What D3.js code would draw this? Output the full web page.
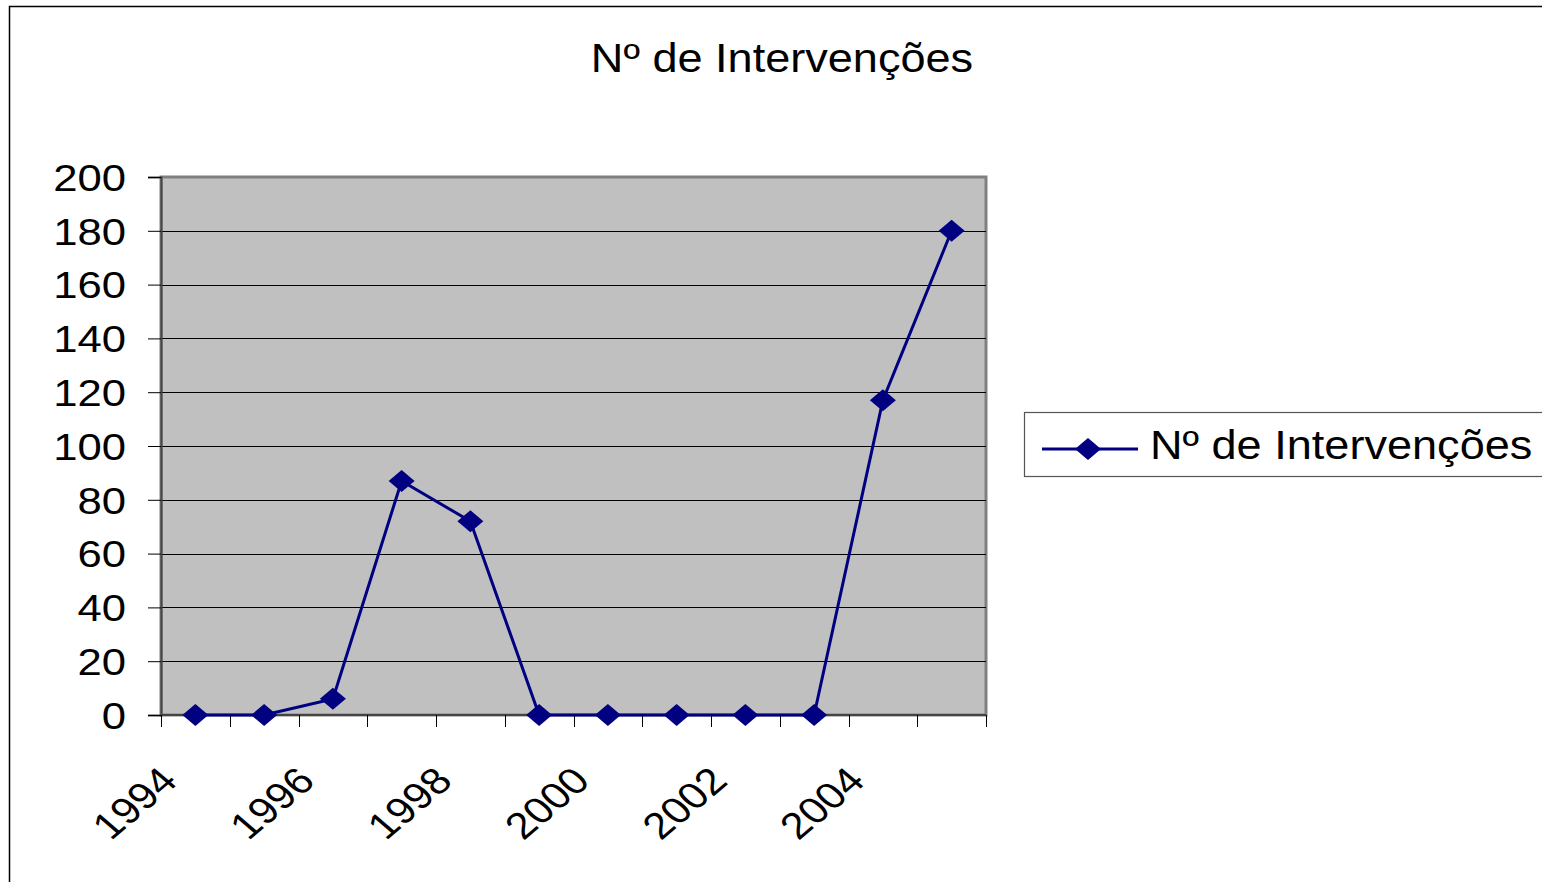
<!DOCTYPE html>
<html>
<head>
<meta charset="utf-8">
<script src="https://cdn.jsdelivr.net/npm/d3@7"></script>
<style>
  body { margin: 0; background: #fff; }
  text { font-family: "Liberation Sans", Arial, sans-serif; fill: #000; }
</style>
</head>
<body>
<script>
// chart data
const years = ['1994','1995','1996','1997','1998','1999','2000','2001','2002','2003','2004','2005'];
const interventions = [0, 0, 6, 87, 72, 0, 0, 0, 0, 0, 117, 180];
const yTicks = [0, 20, 40, 60, 80, 100, 120, 140, 160, 180, 200];
const shownYears = ['1994','1996','1998','2000','2002','2004'];
const seriesName = 'Nº de Intervenções';

const W = 1542, H = 882;
const plot = {left: 161, top: 177, right: 986, bottom: 715};
const stretch = 1.18; // the original text is drawn a bit wide

const svg = d3.select('body').append('svg')
  .attr('width', W)
  .attr('height', H);

// outer chart frame (runs off the right/bottom of the picture)
svg.append('rect')
  .attr('x', 9.5).attr('y', 6.5)
  .attr('width', W + 20).attr('height', H + 20)
  .attr('fill', 'none')
  .attr('stroke', '#000')
  .attr('stroke-width', 1.5);

// title
svg.append('text')
  .attr('text-anchor', 'middle')
  .attr('font-size', 41)
  .attr('transform', 'translate(782, 72) scale(1.1, 1)')
  .text(seriesName);

const xScale = d3.scaleBand()
  .domain(years)
  .range([plot.left, plot.right])
  .padding(0);

const yScale = d3.scaleLinear()
  .domain([0, 200])
  .range([plot.bottom, plot.top]);

// plot area
svg.append('rect')
  .attr('x', plot.left).attr('y', plot.top)
  .attr('width', plot.right - plot.left)
  .attr('height', plot.bottom - plot.top)
  .attr('fill', '#c0c0c0')
  .attr('stroke', '#808080')
  .attr('stroke-width', 3);

// gridlines
svg.selectAll('.grid')
  .data(yTicks.filter(d => d > 0 && d < 200))
  .enter()
  .append('line')
  .attr('x1', plot.left).attr('x2', plot.right)
  .attr('y1', d => Math.round(yScale(d)) + 0.5)
  .attr('y2', d => Math.round(yScale(d)) + 0.5)
  .attr('stroke', '#000')
  .attr('stroke-width', 1);

// y axis
const yAxis = d3.axisLeft(yScale)
  .tickValues(yTicks)
  .tickSize(13);

const yAxisGroup = svg.append('g')
  .attr('transform', `translate(${plot.left}, 0)`)
  .call(yAxis);
yAxisGroup.select('.domain').attr('stroke', '#444').attr('stroke-width', 2);
yAxisGroup.selectAll('.tick line').attr('stroke', '#000');
yAxisGroup.selectAll('.tick text')
  .attr('x', 0)
  .attr('transform', `translate(-35, 0) scale(${stretch}, 1)`)
  .attr('font-size', 37)
  .attr('font-family', '"Liberation Sans", Arial, sans-serif')
  .attr('fill', '#000')
  .attr('dy', '0.36em');

// x axis line and category ticks
svg.append('line')
  .attr('x1', plot.left).attr('x2', plot.right)
  .attr('y1', plot.bottom).attr('y2', plot.bottom)
  .attr('stroke', '#444').attr('stroke-width', 2);

const boundaries = years.map(y => xScale(y)).concat([xScale.range()[1]]);
svg.selectAll('.xtick')
  .data(boundaries)
  .enter()
  .append('line')
  .attr('x1', d => Math.round(d) + 0.5).attr('x2', d => Math.round(d) + 0.5)
  .attr('y1', plot.bottom).attr('y2', plot.bottom + 12)
  .attr('stroke', '#000');

const cx = d => xScale(d) + xScale.bandwidth() / 2;

svg.selectAll('.xlabel')
  .data(shownYears)
  .enter()
  .append('text')
  .attr('text-anchor', 'end')
  .attr('font-size', 37)
  .attr('transform', d => `translate(${cx(d) - 16}, 783) scale(${stretch}, 1) rotate(-45)`)
  .text(d => d);

// series line
const line = d3.line()
  .x((d, i) => cx(years[i]))
  .y(d => yScale(d));

svg.append('path')
  .datum(interventions)
  .attr('d', line)
  .attr('fill', 'none')
  .attr('stroke', '#000080')
  .attr('stroke-width', 3);

const diamond = 'M0,-11 L13,0 L0,11 L-13,0 Z';

svg.selectAll('.marker')
  .data(interventions)
  .enter()
  .append('path')
  .attr('d', diamond)
  .attr('transform', (d, i) => `translate(${cx(years[i])}, ${yScale(d)})`)
  .attr('fill', '#000080');

// legend
const legend = svg.append('g');
legend.append('rect')
  .attr('x', 1024.5).attr('y', 412.5)
  .attr('width', 540).attr('height', 64)
  .attr('fill', '#fff')
  .attr('stroke', '#555')
  .attr('stroke-width', 1.2);
legend.append('line')
  .attr('x1', 1042).attr('x2', 1138)
  .attr('y1', 449).attr('y2', 449)
  .attr('stroke', '#000080')
  .attr('stroke-width', 3);
legend.append('path')
  .attr('d', diamond)
  .attr('transform', 'translate(1088, 449)')
  .attr('fill', '#000080');
legend.append('text')
  .attr('font-size', 41)
  .attr('transform', 'translate(1150, 459) scale(1.1, 1)')
  .text(seriesName);
</script>
</body>
</html>
